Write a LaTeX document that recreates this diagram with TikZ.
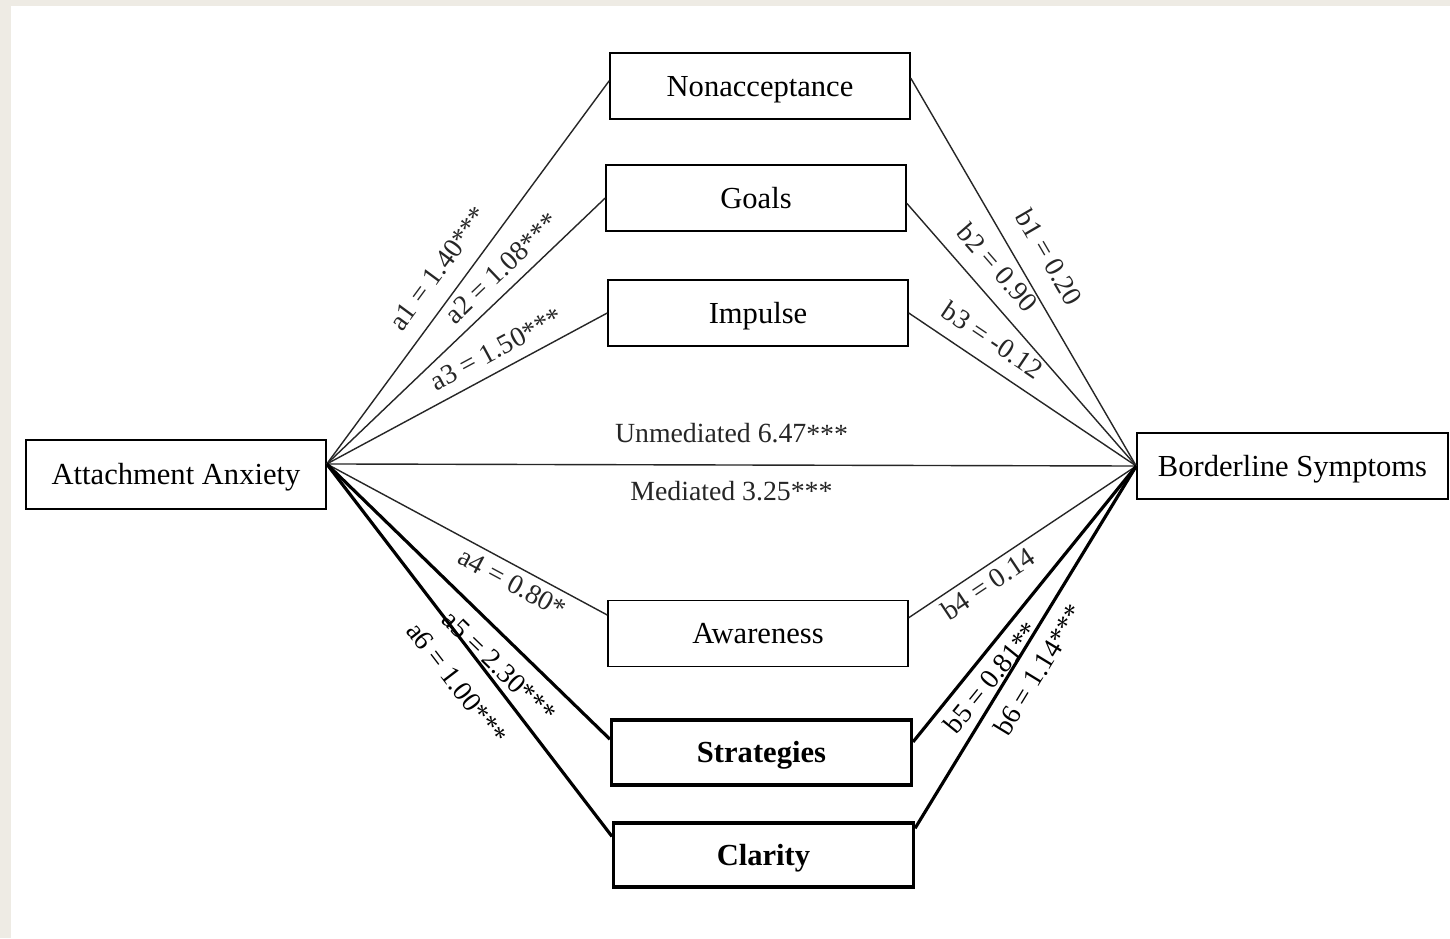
\documentclass[tikz,border=0pt]{standalone}
\usepackage{fontspec}
\setmainfont{Liberation Serif}
\usetikzlibrary{positioning}
\definecolor{pagebg}{RGB}{238,235,228}
\tikzset{
  medbox/.style={draw, line width=0.9pt, minimum width=6cm, minimum height=1.32cm,
    text height=11.5pt, text depth=0pt, font=\fontsize{17.4}{20}\selectfont},
  thickbox/.style={medbox, line width=1.8pt, font=\fontsize{17.4}{20}\selectfont\bfseries},
  thinpath/.style={line width=0.8pt, black!85},
  boldpath/.style={line width=1.8pt, black},
  coef/.style={sloped, inner sep=0pt, font=\fontsize{15.8}{18}\selectfont}
}

\begin{document}
\begin{tikzpicture}[x=0.02cm, y=-0.02cm]
\fill[pagebg] (0,0) rectangle (1450,938);
\fill[white] (11,6) rectangle (1450,938);
\useasboundingbox (0,0) rectangle (1450,938);

\node[medbox, minimum height=1.38cm] (anx) at (176,474.5) {Attachment Anxiety};
\node[medbox, minimum width=6.22cm] (bps) at (1292.5,466) {Borderline Symptoms};

\node[medbox] (nonacc) at (760,86) {Nonacceptance};
\node[medbox] (goals) at (756,198) {Goals};
\node[medbox] (impulse) at (758,313) {Impulse};
\node[medbox] (aware) at (758,633.5) {Awareness};
\node[thickbox, minimum height=1.3cm] (strat) at (761.5,752.5) {Strategies};
\node[thickbox, minimum height=1.28cm] (clar) at (763.5,855) {Clarity};

\coordinate (src) at (anx.4);
\coordinate (dst) at (bps.west);

\draw[thinpath] (src) -- (dst)
  node[coef, midway, above=12pt] {Unmediated 6.47***}
  node[coef, midway, below=9pt] {Mediated 3.25***};

\draw[thinpath] (src) -- (nonacc.178) node[coef, pos=0.47, above=9pt] {a1 = 1.40***};
\draw[thinpath] (src) -- (goals.180) node[coef, pos=0.68, above=6pt] {a2 = 1.08***};
\draw[thinpath] (src) -- (impulse.180) node[coef, pos=0.64, above=6pt] {a3 = 1.50***};
\draw[thinpath] (src) -- (aware.173) node[coef, pos=0.69, below=3.7pt] {a4 = 0.80*};
\draw[boldpath] (src) -- (strat.175) node[coef, pos=0.67, below=8pt] {a5 = 2.30***};
\draw[boldpath] (src) -- (clar.173) node[coef, pos=0.54, below=11pt] {a6 = 1.00***};

\draw[thinpath] (nonacc.3) -- (dst) node[coef, pos=0.5, above=11pt] {b1 = 0.20};
\draw[thinpath] (goals.358) -- (dst) node[coef, pos=0.31, above=9pt] {b2 = 0.90};
\draw[thinpath] (impulse.0) -- (dst) node[coef, pos=0.31, above=8pt] {b3 = -0.12};
\draw[thinpath] (aware.6) -- (dst) node[coef, pos=0.31, below=3pt] {b4 = 0.14};
\draw[boldpath] (strat.4) -- (dst) node[coef, pos=0.28, below=5pt] {b5 = 0.81**};
\draw[boldpath] (clar.10) -- (dst) node[coef, pos=0.47, below=6.5pt] {b6 = 1.14***};

\end{tikzpicture}
\end{document}
